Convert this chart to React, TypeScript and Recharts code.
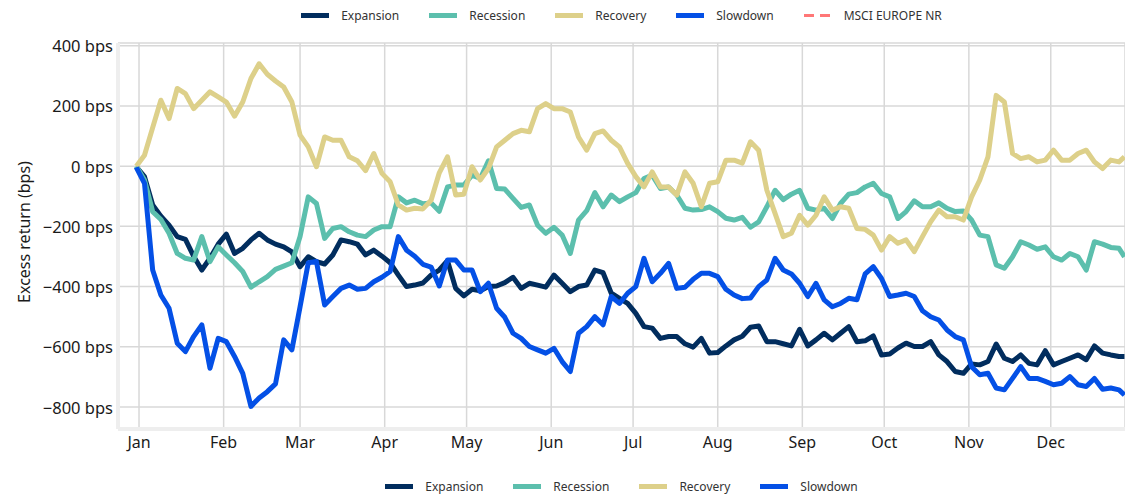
import React from "react";
import { LineChart, Line, XAxis, YAxis, CartesianGrid } from "recharts";

// day of year (0 = 1 Jan), sampled every ~3 days
const days = [
  -1, 2, 5, 8, 11, 14, 17, 20, 23, 26, 29, 32, 35, 38, 41, 44, 47, 50, 53, 56,
  59, 62, 65, 68, 71, 74, 77, 80, 83, 86, 89, 92, 95, 98, 101, 104, 107, 110, 113, 116,
  119, 122, 125, 128, 131, 134, 137, 140, 143, 146, 149, 152, 155, 158, 161, 164, 167, 170, 173, 176,
  179, 182, 185, 188, 191, 194, 197, 200, 203, 206, 209, 212, 215, 218, 221, 224, 227, 230, 233, 236,
  239, 242, 245, 248, 251, 254, 257, 260, 263, 266, 269, 272, 275, 278, 281, 284, 287, 290, 293, 296,
  299, 302, 305, 308, 311, 314, 317, 320, 323, 326, 329, 332, 335, 338, 341, 344, 347, 350, 353, 356,
  359, 361,
];

// excess return in bps
const expansion = [
  -2, -35, -129, -166, -196, -234, -243, -299, -345, -306, -259, -226, -290, -273, -245, -223, -245, -259, -268, -285,
  -334, -301, -317, -325, -295, -245, -251, -259, -295, -279, -299, -321, -362, -400, -395, -388, -362, -345, -314, -406,
  -431, -409, -414, -400, -398, -387, -369, -406, -389, -395, -402, -362, -389, -417, -400, -395, -345, -354, -422, -439,
  -456, -489, -533, -538, -572, -566, -566, -590, -601, -572, -621, -619, -597, -577, -565, -535, -531, -583, -583, -590,
  -597, -542, -597, -577, -555, -577, -555, -533, -583, -580, -564, -627, -624, -604, -588, -599, -599, -583, -627, -649,
  -682, -688, -657, -660, -649, -591, -638, -649, -627, -655, -660, -613, -660, -649, -638, -627, -643, -597, -621, -627,
  -632, -632,
];

const recession = [
  0, -46, -151, -177, -223, -290, -306, -312, -234, -317, -268, -295, -321, -350, -402, -384, -367, -343, -332, -321,
  -234, -102, -124, -240, -207, -201, -218, -229, -234, -212, -201, -201, -102, -122, -113, -125, -122, -150, -69, -63,
  -63, -30, -41, 18, -74, -76, -107, -137, -129, -196, -223, -203, -229, -290, -179, -148, -88, -135, -96, -118,
  -102, -88, -41, -30, -74, -69, -96, -140, -146, -144, -135, -151, -173, -179, -170, -203, -185, -135, -80, -111,
  -93, -80, -140, -146, -140, -174, -124, -93, -88, -69, -57, -91, -102, -174, -151, -115, -135, -135, -122, -140,
  -151, -149, -179, -229, -234, -328, -339, -301, -251, -262, -276, -268, -301, -312, -290, -301, -345, -251, -259, -270,
  -273, -301,
];

const recovery = [
  0, 36, 128, 219, 158, 258, 241, 191, 219, 247, 230, 213, 166, 213, 291, 340, 305, 283, 263, 213,
  103, 64, -2, 97, 86, 86, 31, 18, -15, 42, -24, -52, -129, -146, -140, -142, -113, -22, 31, -96,
  -93, -2, -46, -8, 64, 86, 108, 119, 114, 191, 208, 191, 191, 180, 97, 53, 108, 117, 86, 64,
  9, -35, -69, -19, -69, -69, -96, -19, -57, -135, -57, -52, 20, 20, 10, 81, 53, -80, -157, -234,
  -223, -163, -196, -163, -102, -146, -135, -140, -207, -210, -229, -279, -234, -256, -245, -284, -234, -185, -146, -168,
  -168, -179, -102, -46, 31, 235, 213, 42, 25, 31, 14, 20, 53, 20, 20, 42, 53, 14, -8, 20,
  14, 31,
];

const slowdown = [
  -4, -57, -345, -428, -472, -588, -616, -566, -527, -671, -572, -583, -632, -688, -798, -770, -749, -723, -577, -610,
  -467, -321, -317, -461, -433, -406, -395, -409, -406, -384, -369, -350, -234, -279, -299, -326, -335, -398, -312, -312,
  -345, -345, -417, -389, -472, -502, -555, -572, -599, -610, -621, -605, -649, -682, -555, -533, -500, -527, -433, -456,
  -422, -400, -306, -384, -356, -323, -406, -402, -376, -356, -356, -367, -409, -428, -440, -438, -400, -378, -306, -345,
  -358, -389, -433, -389, -444, -467, -456, -439, -444, -358, -334, -373, -433, -428, -422, -433, -480, -500, -511, -544,
  -566, -577, -666, -693, -688, -737, -743, -705, -666, -705, -705, -715, -726, -721, -699, -726, -732, -705, -741, -737,
  -743, -760,
];

const monthTicks = [0, 31, 59, 90, 120, 151, 181, 212, 243, 273, 304, 334];
const monthLabels = ["Jan", "Feb", "Mar", "Apr", "May", "Jun", "Jul", "Aug", "Sep", "Oct", "Nov", "Dec"];
const yTicks = [-800, -600, -400, -200, 0, 200, 400];

const series = [
  { key: "Expansion", color: "#012d5e" },
  { key: "Recession", color: "#5cbfad" },
  { key: "Recovery", color: "#ddd08a" },
  { key: "Slowdown", color: "#0450e6" },
];
const benchmark = { key: "MSCI EUROPE NR", color: "#ff7777" };

const rows = days.map((day, i) => ({
  day,
  Expansion: expansion[i],
  Recession: recession[i],
  Recovery: recovery[i],
  Slowdown: slowdown[i],
}));

const FONT = "'Noto Sans', 'Open Sans', sans-serif";

const fmtBps = (v: number) => `${v < 0 ? "\u2212" + Math.abs(v) : v} bps`;

function YTick(props: any) {
  return (
    <text x={113} y={props.y} textAnchor="end" dominantBaseline="central" fontSize={16.5} fill="#1a1a1a" fontFamily={FONT}>
      {fmtBps(props.payload.value)}
    </text>
  );
}

function XTick(props: any) {
  const idx = monthTicks.indexOf(props.payload.value);
  return (
    <text x={props.x} y={442} textAnchor="middle" dominantBaseline="central" fontSize={16} fill="#1a1a1a"
      fontFamily={FONT} style={{ fontStretch: "condensed" }}>
      {monthLabels[idx]}
    </text>
  );
}

function Swatch({ color, dashed }: { color: string; dashed?: boolean }) {
  if (dashed) {
    return (
      <span style={{ display: "inline-flex", width: 26, marginRight: 14, justifyContent: "space-between" }}>
        <span style={{ width: 10, height: 3, background: color }} />
        <span style={{ width: 10, height: 3, background: color }} />
      </span>
    );
  }
  return <span style={{ display: "inline-block", width: 28, height: 5, background: color, marginRight: 12 }} />;
}

function LegendRow({ top, withBenchmark }: { top: number; withBenchmark?: boolean }) {
  return (
    <div style={{
      position: "absolute", left: 118, width: 1007, top, height: 16, display: "flex",
      justifyContent: "center", alignItems: "center", gap: 30, fontSize: 12, color: "#333", fontFamily: FONT,
    }}>
      {series.map((s) => (
        <span key={s.key} style={{ display: "flex", alignItems: "center" }}>
          <Swatch color={s.color} />
          {s.key}
        </span>
      ))}
      {withBenchmark && (
        <span style={{ display: "flex", alignItems: "center" }}>
          <Swatch color={benchmark.color} dashed />
          {benchmark.key}
        </span>
      )}
    </div>
  );
}

export default function App() {
  return (
    <div style={{ position: "absolute", left: 0, top: 0, width: 1125, height: 496, background: "#fff", overflow: "hidden" }}>
      <LegendRow top={7} withBenchmark />
      <LineChart width={1125} height={496} data={rows} margin={{ top: 43, right: 0, bottom: 0, left: 0 }}>
        <CartesianGrid stroke="#d8d8d8" strokeWidth={1.5} />
        <XAxis
          dataKey="day"
          type="number"
          domain={[-7.7, 361.2]}
          allowDataOverflow
          ticks={monthTicks}
          height={67}
          tickLine={false}
          axisLine={{ stroke: "#eeeeee", strokeWidth: 4 }}
          tick={<XTick />}
          interval={0}
        />
        <YAxis
          type="number"
          domain={[-873, 409]}
          allowDataOverflow
          ticks={yTicks}
          width={118}
          tickLine={false}
          axisLine={{ stroke: "#eeeeee", strokeWidth: 4 }}
          tick={<YTick />}
          interval={0}
          label={{
            content: () => (
              <text transform="translate(24,232) rotate(-90)" textAnchor="middle" dominantBaseline="central"
                fontSize={16} fill="#1a1a1a" fontFamily={FONT}>
                Excess return (bps)
              </text>
            ),
          }}
        />
        {series.map((s) => (
          <Line
            key={s.key}
            dataKey={s.key}
            type="linear"
            stroke={s.color}
            strokeWidth={5}
            strokeLinejoin="round"
            dot={false}
            activeDot={false}
            isAnimationActive={false}
          />
        ))}
      </LineChart>
      <LegendRow top={478} />
    </div>
  );
}
